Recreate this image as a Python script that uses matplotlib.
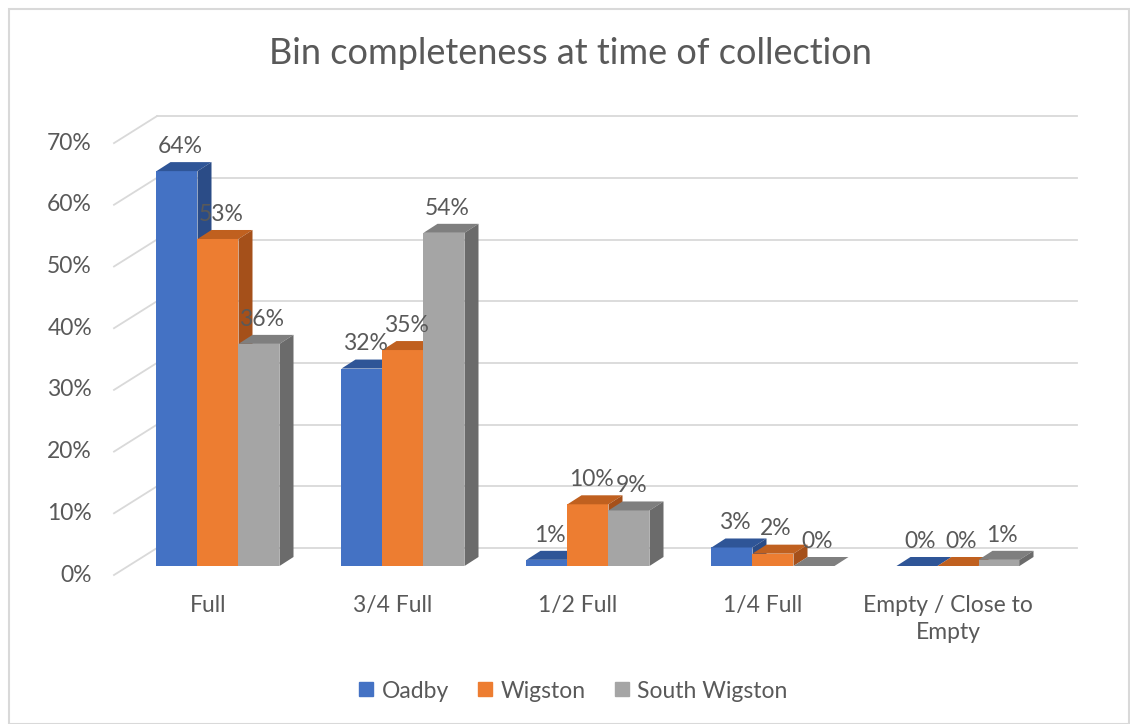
import matplotlib.pyplot as plt
from matplotlib.patches import Polygon, Rectangle
from matplotlib.lines import Line2D

plt.rcParams['font.family'] = ['Lato', 'DejaVu Sans']

categories = ['Full', '3/4 Full', '1/2 Full', '1/4 Full', 'Empty / Close to\nEmpty']
series = ['Oadby', 'Wigston', 'South Wigston']
oadby = [64, 32, 1, 3, 0]
wigston = [53, 35, 10, 2, 0]
south_wigston = [36, 54, 9, 0, 1]
yticks = [0, 10, 20, 30, 40, 50, 60, 70]

front = ['#4472C4', '#ED7D31', '#A5A5A5']
top = ['#2F5597', '#C0601F', '#7F7F7F']
side = ['#2B4C87', '#A5501A', '#6B6B6B']
txt = '#595959'

# pixel scale of the picture: one category = 185 px, one percent = 6.17 px
W, H = 1130, 724
px_x, px_y = 185.0, 6.17
x0_px, y0_px = 218, 566

fig = plt.figure(figsize=(W / 100, H / 100), dpi=100)
ax = fig.add_axes([0, 0, 1, 1])
ax.set_xlim(-x0_px / px_x, (W - x0_px) / px_x)
ax.set_ylim((y0_px - H) / px_y, y0_px / px_y)
ax.axis('off')

# depth offsets
bdx, bdy = 14 / px_x, 9 / px_y       # bar depth
wdy = 18 / px_y                       # back wall above bar front
wall_l, wall_r = (157 - x0_px) / px_x, (1077 - x0_px) / px_x
side_l = (114 - x0_px) / px_x

for v in yticks:
    ax.plot([wall_l, wall_r], [v + wdy, v + wdy], color='#D9D9D9', lw=1.3, zorder=1)
    ax.plot([side_l, wall_l], [v - bdy, v + wdy], color='#D9D9D9', lw=1.3, zorder=1)
    ax.text(side_l - 22 / px_x, v - bdy, f'{v}%', ha='right', va='center',
            fontsize=16.5, color=txt)

bw = 41 / px_x
data = [oadby, wigston, south_wigston]
for c in range(len(categories)):
    for s, vals in enumerate(data):
        v = vals[c]
        x = c + (s - 1.5) * bw
        ax.add_patch(Rectangle((x, 0), bw, v, facecolor=front[s], edgecolor='none', zorder=3))
        ax.add_patch(Polygon([(x, v), (x + bdx, v + bdy), (x + bw + bdx, v + bdy), (x + bw, v)],
                             closed=True, facecolor=top[s], edgecolor='none', zorder=3))
        ax.add_patch(Polygon([(x + bw, 0), (x + bw + bdx, bdy), (x + bw + bdx, v + bdy), (x + bw, v)],
                             closed=True, facecolor=side[s], edgecolor='none', zorder=3))
        ax.text(x + bw / 2 + 3 / px_x, v + 4.0, f'{v}%', ha='center', va='center',
                fontsize=16.5, color=txt, zorder=4)
    ax.text(c - 10 / px_x, -29 / px_y, categories[c], ha='center', va='top',
            fontsize=16.5, color=txt, linespacing=1.35)

fig.text(570 / W, 1 - 54 / H, 'Bin completeness at time of collection', ha='center',
         va='center', fontsize=26, color=txt)

handles = [Line2D([], [], marker='s', ls='none', markersize=10, color=front[i]) for i in range(3)]
fig.legend(handles, series, loc='center', bbox_to_anchor=(570 / W, 1 - 691 / H), ncol=3,
           frameon=False, fontsize=16.5, labelcolor=txt, handletextpad=0.05, columnspacing=1.0,
           handlelength=1.2)

fig.add_artist(Rectangle((9 / W, 0), (1129 - 9) / W, 1 - 9 / H, transform=fig.transFigure,
                         fill=False, edgecolor='#D9D9D9', lw=1.5))

fig.savefig('out.png', dpi=100)
